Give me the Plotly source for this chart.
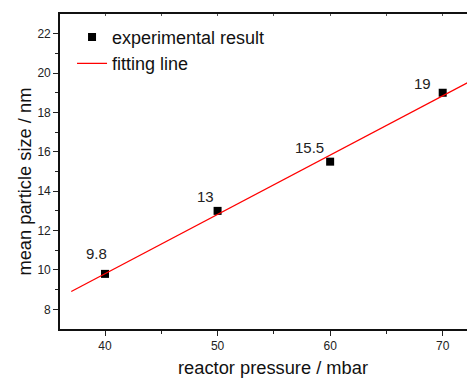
import numpy as np
import plotly.graph_objects as go

pressure = [40, 50, 60, 70]
size_nm = [9.8, 13, 15.5, 19]
point_labels = ["9.8", "13", "15.5", "19"]
fit_x = [37, 73.5]

slope, intercept = np.polyfit(pressure, size_nm, 1)
fit_y = [slope * v + intercept for v in fit_x]

FONT = "Arial, Liberation Sans, sans-serif"

fig = go.Figure()
fig.add_trace(go.Scatter(
    x=pressure, y=size_nm, mode="markers", name="experimental result",
    marker=dict(symbol="square", size=8, color="black"),
))
fig.add_trace(go.Scatter(
    x=fit_x, y=fit_y, mode="lines", name="fitting line",
    line=dict(color="red", width=1.3),
))
# invisible trace to carry the top axis
fig.add_trace(go.Scatter(x=[40], y=[10], xaxis="x2", mode="markers",
                         marker=dict(opacity=0), showlegend=False, hoverinfo="skip"))

shifts = [(-9, 20), (-12, 14), (-21, 14), (-20, 9)]
for xv, yv, lab, (dx, dy) in zip(pressure, size_nm, point_labels, shifts):
    fig.add_annotation(x=xv, y=yv, text=lab, showarrow=False, xshift=dx, yshift=dy,
                       font=dict(family=FONT, size=15, color="#222"))

# axis titles placed as annotations for exact positioning
fig.add_annotation(xref="paper", yref="paper", x=0.513, y=0, yanchor="middle", yshift=-38,
                   text="reactor pressure / mbar", showarrow=False,
                   font=dict(family=FONT, size=18.3, color="#111"))
fig.add_annotation(xref="paper", yref="paper", x=0, y=0.468, xanchor="center", xshift=-35,
                   text="mean particle size / nm", textangle=-90, showarrow=False,
                   font=dict(family=FONT, size=18.3, color="#111"))

# the page body adds an 8px margin, so the figure is offset by 8px in the window
fig.update_layout(
    width=467, height=370,
    margin=dict(l=52, r=0, t=6, b=49),
    plot_bgcolor="white", paper_bgcolor="white",
    font=dict(family=FONT, color="#222"),
    showlegend=True,
    legend=dict(x=0.029, y=0.985, xanchor="left", yanchor="top",
                bgcolor="rgba(0,0,0,0)", font=dict(family=FONT, size=18, color="#111"),
                tracegroupgap=0),
    xaxis=dict(range=[36, 72.87], tickvals=[40, 50, 60, 70], ticks="outside", automargin=False,
               ticklen=5, tickwidth=1.3, tickcolor="#222",
               minor=dict(tickvals=[45, 55, 65], ticks="outside", ticklen=3, tickwidth=1.2, tickcolor="#222"),
               showline=True, linewidth=1.6, linecolor="#111", showgrid=False, zeroline=False,
               tickfont=dict(size=12, color="#222")),
    xaxis2=dict(range=[36, 72.87], overlaying="x", side="top", tickvals=[40, 45, 50, 55, 60, 65, 70],
                ticks="inside", ticklen=2, tickwidth=1, tickcolor="#555", showticklabels=False,
                automargin=False,
                showline=True, linewidth=1.6, linecolor="#111", showgrid=False, zeroline=False),
    yaxis=dict(range=[7, 23], tickvals=[8, 10, 12, 14, 16, 18, 20, 22], ticks="outside", automargin=False,
               ticklen=5, tickwidth=1.3, tickcolor="#222",
               minor=dict(tickvals=[9, 11, 13, 15, 17, 19, 21], ticks="outside", ticklen=3, tickwidth=1.2, tickcolor="#222"),
               showline=True, linewidth=1.6, linecolor="#111", showgrid=False, zeroline=False,
               tickfont=dict(size=12, color="#222")),
)

fig.write_html("out.html")
